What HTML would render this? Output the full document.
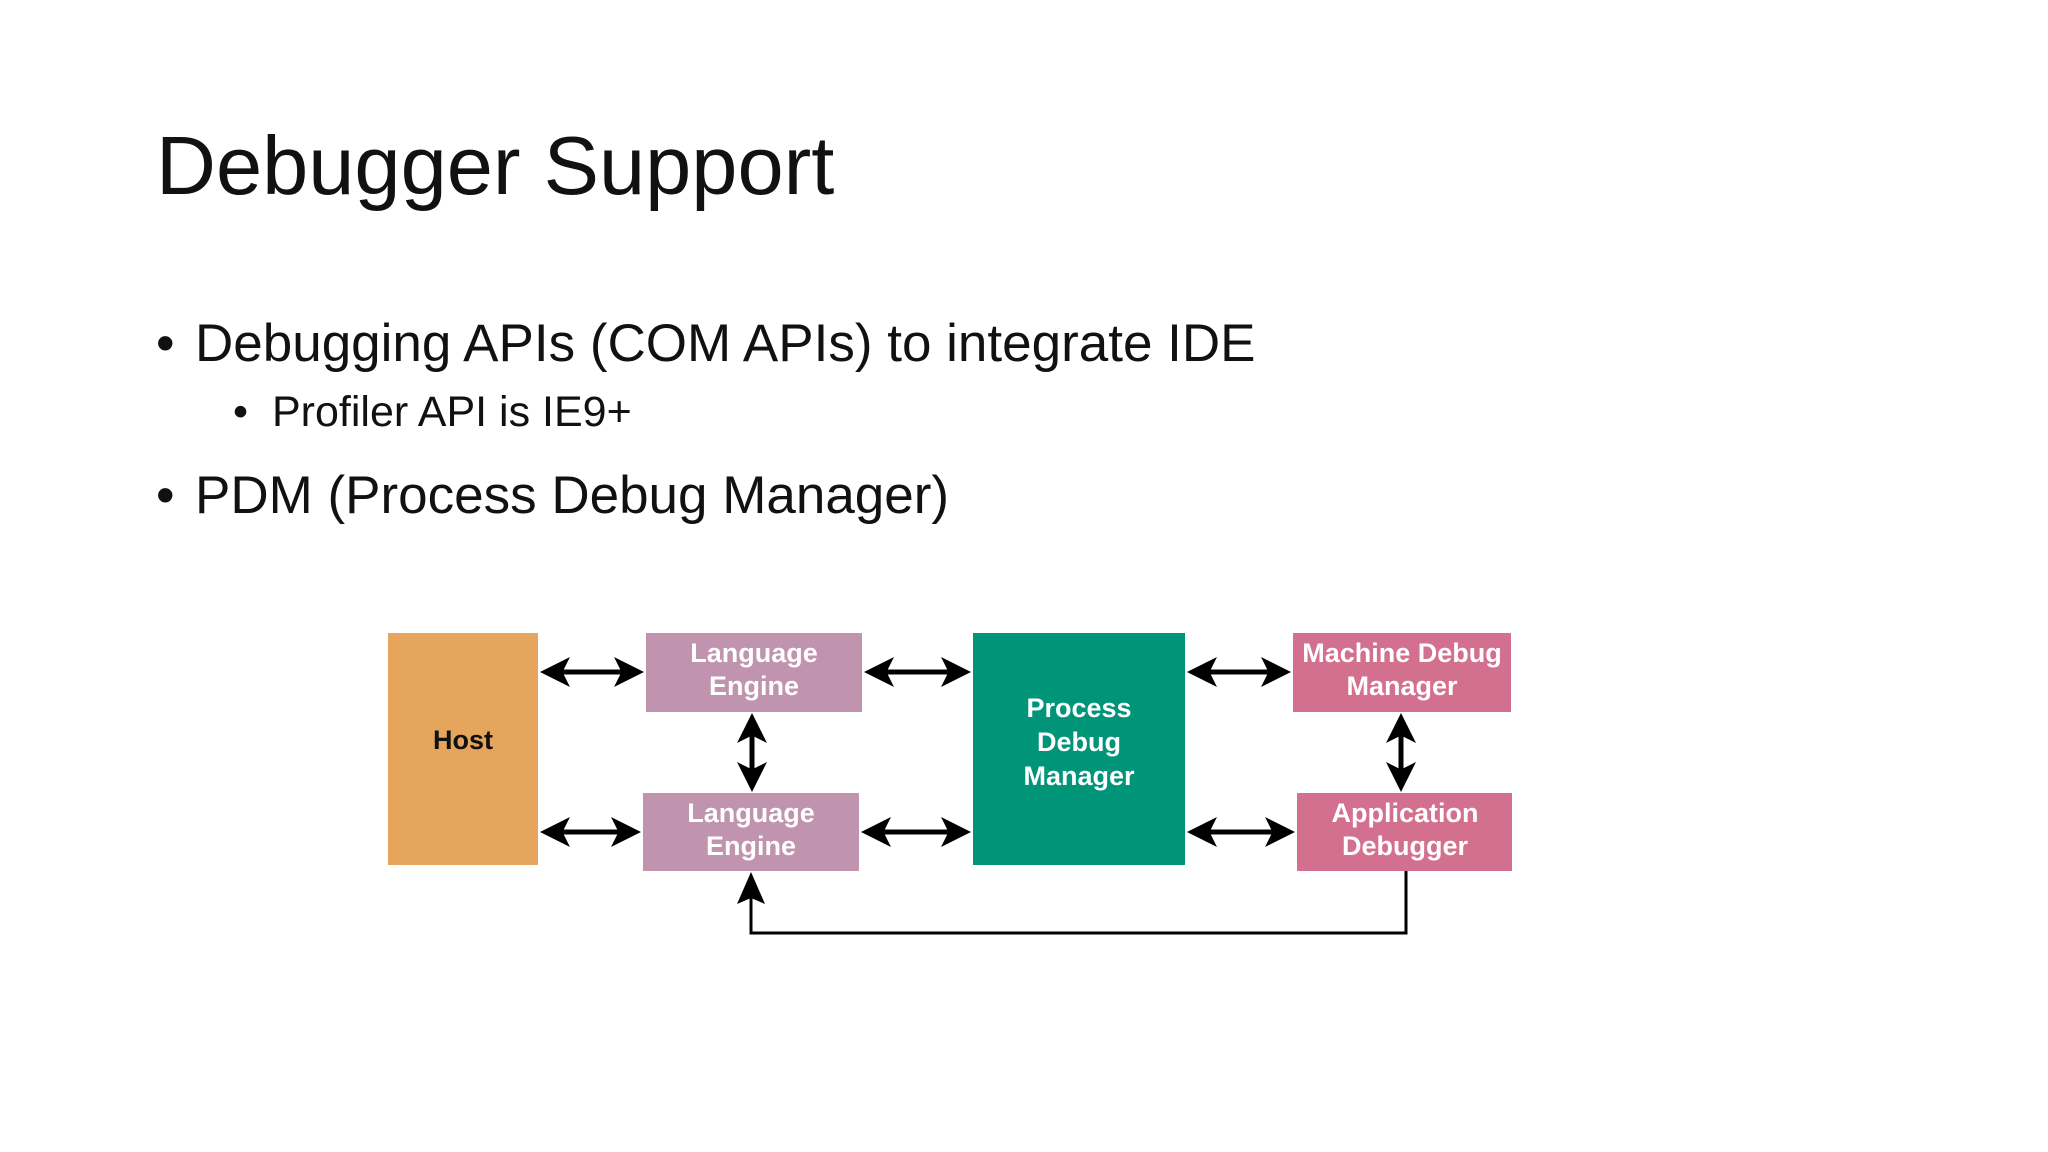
<!DOCTYPE html>
<html><head><meta charset="utf-8"><style>
html,body{margin:0;padding:0;background:#fff;}
body{width:2048px;height:1152px;position:relative;overflow:hidden;font-family:"Liberation Sans",sans-serif;color:#111;}
.t{position:absolute;white-space:nowrap;line-height:1;}
</style></head><body>
<div class="t" style="left:156px;top:124px;font-size:83px;">Debugger Support</div>
<div class="t" style="left:156px;top:317px;font-size:53px;">•</div>
<div class="t" style="left:195px;top:317px;font-size:53px;">Debugging APIs (COM APIs) to integrate IDE</div>
<div class="t" style="left:233px;top:391px;font-size:43px;">•</div>
<div class="t" style="left:272px;top:391px;font-size:43px;">Profiler API is IE9+</div>
<div class="t" style="left:156px;top:469px;font-size:53px;">•</div>
<div class="t" style="left:195px;top:469px;font-size:53px;">PDM (Process Debug Manager)</div>
<svg width="2048" height="1152" style="position:absolute;left:0;top:0" font-family="'Liberation Sans Narrow','Liberation Sans',sans-serif" font-weight="bold" font-size="27" text-anchor="middle">
<defs>
<marker id="a" markerWidth="6" markerHeight="6" refX="5" refY="3" orient="auto-start-reverse" markerUnits="strokeWidth">
<path d="M0,0 L6,3 L0,6 L1.5,3 z" fill="#000"/></marker>
</defs>
<rect x="388" y="633" width="150" height="232" fill="#E5A55C"/>
<rect x="646" y="633" width="216" height="79" fill="#C094AE"/>
<rect x="643" y="793" width="216" height="78" fill="#C094AE"/>
<rect x="973" y="633" width="212" height="232" fill="#009479"/>
<rect x="1293" y="633" width="218" height="79" fill="#D4708F"/>
<rect x="1297" y="793" width="215" height="78" fill="#D4708F"/>
<text x="463" y="749" fill="#111">Host</text>
<g fill="#fff">
<text x="754" y="662">Language</text><text x="754" y="695">Engine</text>
<text x="751" y="822">Language</text><text x="751" y="855">Engine</text>
<text x="1079" y="717">Process</text><text x="1079" y="751">Debug</text><text x="1079" y="785">Manager</text>
<text x="1402" y="662">Machine Debug</text><text x="1402" y="695">Manager</text>
<text x="1405" y="822">Application</text><text x="1405" y="855">Debugger</text>
</g>
<g stroke="#000" stroke-width="5" fill="none" marker-start="url(#a)" marker-end="url(#a)">
<line x1="545" y1="672" x2="639" y2="672"/>
<line x1="869" y1="672" x2="966" y2="672"/>
<line x1="1192" y1="672" x2="1286" y2="672"/>
<line x1="545" y1="832" x2="636" y2="832"/>
<line x1="866" y1="832" x2="966" y2="832"/>
<line x1="1192" y1="832" x2="1290" y2="832"/>
<line x1="752" y1="718" x2="752" y2="787"/>
<line x1="1401" y1="718" x2="1401" y2="787"/>
</g>
<polyline points="1406,871 1406,933 751,933 751,880" stroke="#000" stroke-width="3" fill="none"/>
<path d="M751,872 L765,904 L751,898 L737,904 z" fill="#000"/>
</svg>
</body></html>
